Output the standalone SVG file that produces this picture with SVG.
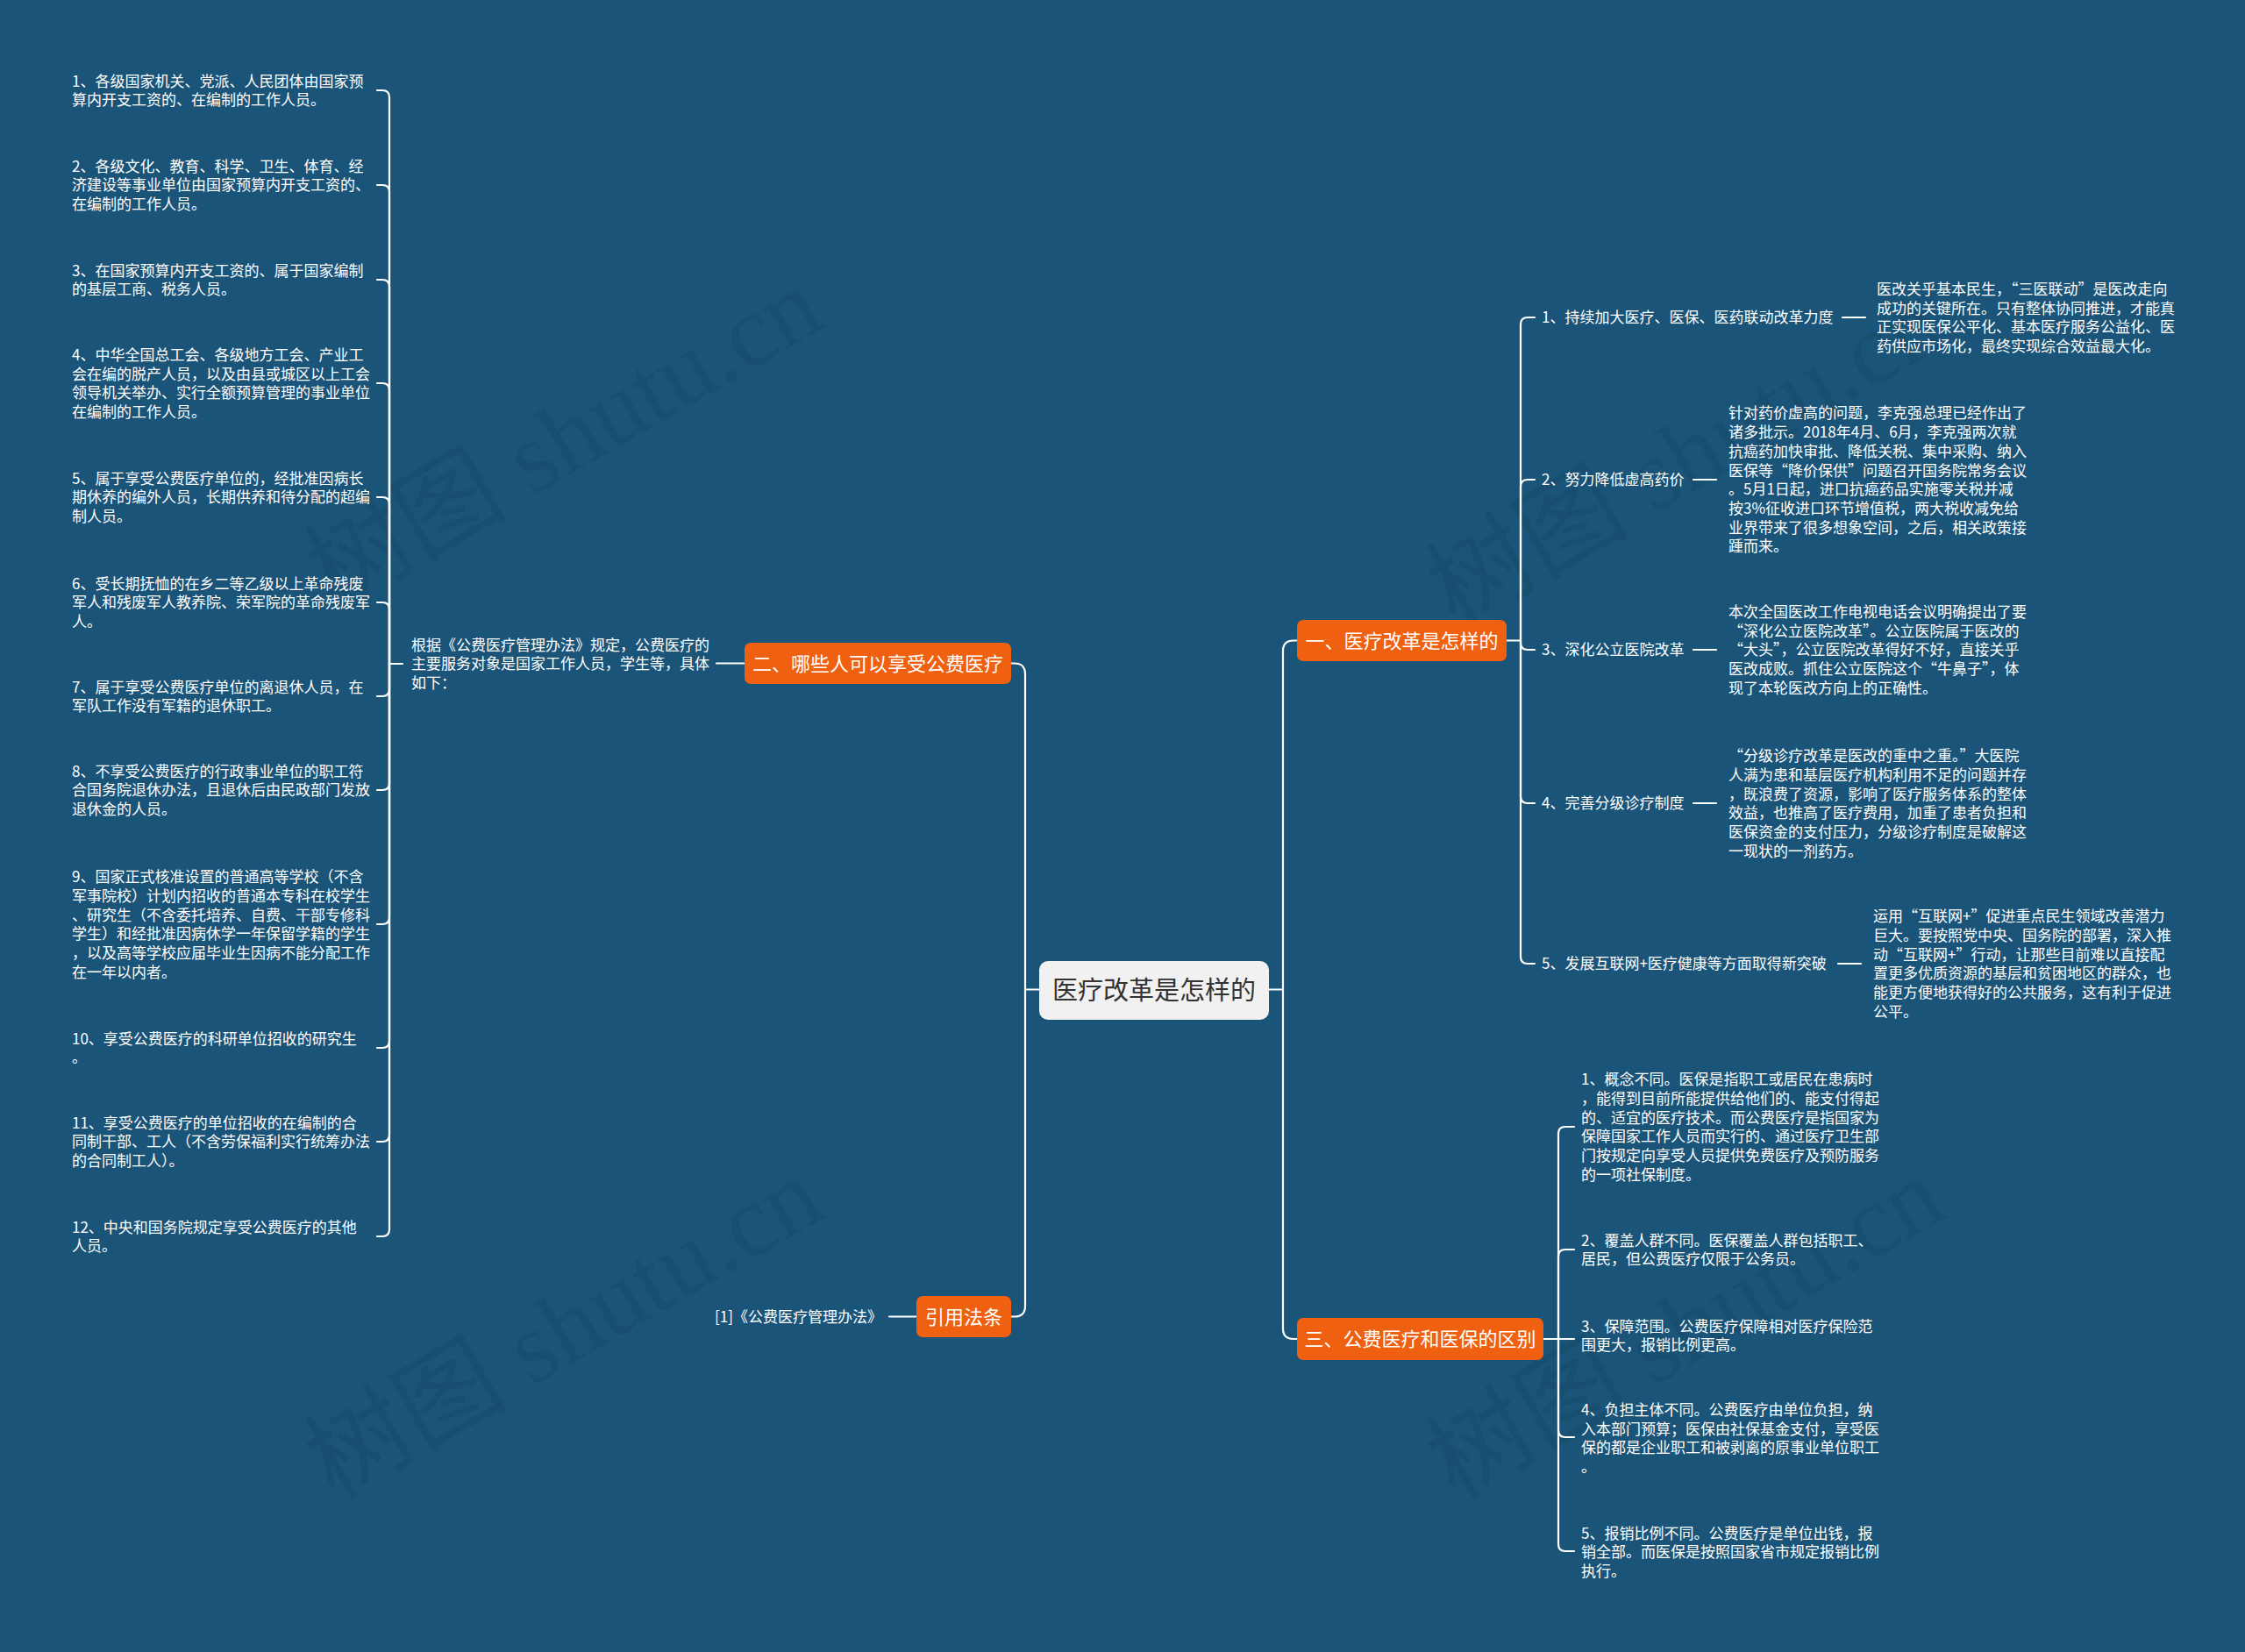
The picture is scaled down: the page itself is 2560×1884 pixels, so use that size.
<svg xmlns="http://www.w3.org/2000/svg" width="2560" height="1884" viewBox="0 0 2560 1884">
<style>
text{font-family:"Noto Sans CJK SC","Liberation Sans",sans-serif;}
.t{fill:#ffffff;font-size:17px;}
.nt{fill:#ffffff;font-size:22px;text-anchor:middle;}
.rt{fill:#333333;font-size:29px;text-anchor:middle;}
.ob{fill:#ef6011;}
.rb{fill:#f1f1f1;}
.conn path{stroke:#ffffff;stroke-width:2.2;fill:none;stroke-linecap:round;stroke-linejoin:round;}
.wm{font-family:"Liberation Serif","Noto Sans CJK SC",serif;font-size:116px;fill:#000000;fill-opacity:0.07;text-anchor:middle;}
</style>
<rect x="0" y="0" width="2560" height="1884" fill="#1a5479"/>

<g id="watermarks">
<text class="wm" transform="translate(662,534) rotate(-30)">树图 shutu.cn</text>
<text class="wm" transform="translate(662,1549) rotate(-30)">树图 shutu.cn</text>
<text class="wm" transform="translate(1941,554) rotate(-30)">树图 shutu.cn</text>
<text class="wm" transform="translate(1941,1549) rotate(-30)">树图 shutu.cn</text>
</g>

<g id="connectors" class="conn">
<path d="M1185 1128.5 H1169"/>
<path d="M1169 1128.5 V768.5 Q1169 756.5 1157 756.5 H1153"/>
<path d="M1169 1128.5 V1489.5 Q1169 1501.5 1157 1501.5 H1153"/>
<path d="M1447 1128.5 H1463"/>
<path d="M1463 1128.5 V742.5 Q1463 730.5 1475 730.5 H1479"/>
<path d="M1463 1128.5 V1515 Q1463 1527 1475 1527 H1479"/>
<path d="M849 756.5 H817"/>
<path d="M459 757 H444"/>
<path d="M444 757 V111 Q444 103 436 103 H430"/>
<path d="M444 757 V219 Q444 211 436 211 H430"/>
<path d="M444 757 V327 Q444 319 436 319 H430"/>
<path d="M444 757 V445 Q444 437 436 437 H430"/>
<path d="M444 757 V575 Q444 567 436 567 H430"/>
<path d="M444 757 V695 Q444 687 436 687 H430"/>
<path d="M444 757 V786 Q444 794 436 794 H430"/>
<path d="M444 757 V893 Q444 901 436 901 H430"/>
<path d="M444 757 V1046 Q444 1054 436 1054 H430"/>
<path d="M444 757 V1187 Q444 1195 436 1195 H430"/>
<path d="M444 757 V1294 Q444 1302 436 1302 H430"/>
<path d="M444 757 V1402 Q444 1410 436 1410 H430"/>
<path d="M1045 1501.5 H1014"/>
<path d="M1718 730.5 H1734"/>
<path d="M1734 730.5 V370 Q1734 362 1742 362 H1750"/>
<path d="M1734 730.5 V555 Q1734 547 1742 547 H1750"/>
<path d="M1734 730.5 V733 Q1734 741 1742 741 H1750"/>
<path d="M1734 730.5 V908 Q1734 916 1742 916 H1750"/>
<path d="M1734 730.5 V1091 Q1734 1099 1742 1099 H1750"/>
<path d="M2101 362 H2127"/>
<path d="M1931 547 H1957"/>
<path d="M1931 741 H1957"/>
<path d="M1931 916 H1957"/>
<path d="M2096 1099 H2122"/>
<path d="M1760 1527 H1777"/>
<path d="M1777 1527 V1293 Q1777 1285 1785 1285 H1795"/>
<path d="M1777 1527 V1433 Q1777 1425 1785 1425 H1795"/>
<path d="M1777 1527 H1795"/>
<path d="M1777 1527 V1631 Q1777 1639 1785 1639 H1795"/>
<path d="M1777 1527 V1761 Q1777 1769 1785 1769 H1795"/>
</g>

<g id="root">
<rect class="rb" x="1185" y="1096" width="262" height="67" rx="10"/>
<text class="rt" x="1316" y="1140">医疗改革是怎样的</text>
</g>

<g id="node-2">
<rect class="ob" x="849" y="733" width="304" height="47" rx="7"/>
<text class="nt" x="1001" y="764.6">二、哪些人可以享受公费医疗</text>
</g>
<g id="node-2-desc">
<text class="t" x="469" y="741.6">根据《公费医疗管理办法》规定，公费医疗的<tspan x="469" dy="21.7">主要服务对象是国家工作人员，学生等，具体</tspan><tspan x="469" dy="21.7">如下：</tspan></text>
</g>

<g id="left-item-1"><text class="t" x="82" y="98.5">1、各级国家机关、党派、人民团体由国家预<tspan x="82" dy="21.7">算内开支工资的、在编制的工作人员。</tspan></text></g>
<g id="left-item-2"><text class="t" x="82" y="195.6">2、各级文化、教育、科学、卫生、体育、经<tspan x="82" dy="21.7">济建设等事业单位由国家预算内开支工资的、</tspan><tspan x="82" dy="21.7">在编制的工作人员。</tspan></text></g>
<g id="left-item-3"><text class="t" x="82" y="314.5">3、在国家预算内开支工资的、属于国家编制<tspan x="82" dy="21.7">的基层工商、税务人员。</tspan></text></g>
<g id="left-item-4"><text class="t" x="82" y="410.8">4、中华全国总工会、各级地方工会、产业工<tspan x="82" dy="21.7">会在编的脱产人员，以及由县或城区以上工会</tspan><tspan x="82" dy="21.7">领导机关举办、实行全额预算管理的事业单位</tspan><tspan x="82" dy="21.7">在编制的工作人员。</tspan></text></g>
<g id="left-item-5"><text class="t" x="82" y="551.6">5、属于享受公费医疗单位的，经批准因病长<tspan x="82" dy="21.7">期休养的编外人员，长期供养和待分配的超编</tspan><tspan x="82" dy="21.7">制人员。</tspan></text></g>
<g id="left-item-6"><text class="t" x="82" y="671.6">6、受长期抚恤的在乡二等乙级以上革命残废<tspan x="82" dy="21.7">军人和残废军人教养院、荣军院的革命残废军</tspan><tspan x="82" dy="21.7">人。</tspan></text></g>
<g id="left-item-7"><text class="t" x="82" y="789.5">7、属于享受公费医疗单位的离退休人员，在<tspan x="82" dy="21.7">军队工作没有军籍的退休职工。</tspan></text></g>
<g id="left-item-8"><text class="t" x="82" y="885.6">8、不享受公费医疗的行政事业单位的职工符<tspan x="82" dy="21.7">合国务院退休办法，且退休后由民政部门发放</tspan><tspan x="82" dy="21.7">退休金的人员。</tspan></text></g>
<g id="left-item-9"><text class="t" x="82" y="1006.1">9、国家正式核准设置的普通高等学校（不含<tspan x="82" dy="21.7">军事院校）计划内招收的普通本专科在校学生</tspan><tspan x="82" dy="21.7">、研究生（不含委托培养、自费、干部专修科</tspan><tspan x="82" dy="21.7">学生）和经批准因病休学一年保留学籍的学生</tspan><tspan x="82" dy="21.7">，以及高等学校应届毕业生因病不能分配工作</tspan><tspan x="82" dy="21.7">在一年以内者。</tspan></text></g>
<g id="left-item-10"><text class="t" x="82" y="1190.5">10、享受公费医疗的科研单位招收的研究生<tspan x="82" dy="21.7">。</tspan></text></g>
<g id="left-item-11"><text class="t" x="82" y="1286.6">11、享受公费医疗的单位招收的在编制的合<tspan x="82" dy="21.7">同制干部、工人（不含劳保福利实行统筹办法</tspan><tspan x="82" dy="21.7">的合同制工人）。</tspan></text></g>
<g id="left-item-12"><text class="t" x="82" y="1405.5">12、中央和国务院规定享受公费医疗的其他<tspan x="82" dy="21.7">人员。</tspan></text></g>

<g id="node-cite">
<rect class="ob" x="1045" y="1478" width="108" height="47" rx="7"/>
<text class="nt" x="1099" y="1509.6">引用法条</text>
</g>
<g id="cite-item"><text class="t" x="815" y="1507.8">[1]《公费医疗管理办法》</text></g>

<g id="node-1">
<rect class="ob" x="1479" y="707" width="239" height="47" rx="7"/>
<text class="nt" x="1598.5" y="738.6">一、医疗改革是怎样的</text>
</g>
<g id="r1-item-1"><text class="t" x="1758" y="368.3">1、持续加大医疗、医保、医药联动改革力度</text></g>
<g id="r1-desc-1"><text class="t" x="2140" y="335.8">医改关乎基本民生，“三医联动”是医改走向<tspan x="2140" dy="21.7">成功的关键所在。只有整体协同推进，才能真</tspan><tspan x="2140" dy="21.7">正实现医保公平化、基本医疗服务公益化、医</tspan><tspan x="2140" dy="21.7">药供应市场化，最终实现综合效益最大化。</tspan></text></g>
<g id="r1-item-2"><text class="t" x="1758" y="553.3">2、努力降低虚高药价</text></g>
<g id="r1-desc-2"><text class="t" x="1971" y="477.4">针对药价虚高的问题，李克强总理已经作出了<tspan x="1971" dy="21.7">诸多批示。2018年4月、6月，李克强两次就</tspan><tspan x="1971" dy="21.7">抗癌药加快审批、降低关税、集中采购、纳入</tspan><tspan x="1971" dy="21.7">医保等“降价保供”问题召开国务院常务会议</tspan><tspan x="1971" dy="21.7">。5月1日起，进口抗癌药品实施零关税并减</tspan><tspan x="1971" dy="21.7">按3%征收进口环节增值税，两大税收减免给</tspan><tspan x="1971" dy="21.7">业界带来了很多想象空间，之后，相关政策接</tspan><tspan x="1971" dy="21.7">踵而来。</tspan></text></g>
<g id="r1-item-3"><text class="t" x="1758" y="747.3">3、深化公立医院改革</text></g>
<g id="r1-desc-3"><text class="t" x="1971" y="703.9">本次全国医改工作电视电话会议明确提出了要<tspan x="1971" dy="21.7">“深化公立医院改革”。公立医院属于医改的</tspan><tspan x="1971" dy="21.7">“大头”，公立医院改革得好不好，直接关乎</tspan><tspan x="1971" dy="21.7">医改成败。抓住公立医院这个“牛鼻子”，体</tspan><tspan x="1971" dy="21.7">现了本轮医改方向上的正确性。</tspan></text></g>
<g id="r1-item-4"><text class="t" x="1758" y="922.3">4、完善分级诊疗制度</text></g>
<g id="r1-desc-4"><text class="t" x="1971" y="868.1">“分级诊疗改革是医改的重中之重。”大医院<tspan x="1971" dy="21.7">人满为患和基层医疗机构利用不足的问题并存</tspan><tspan x="1971" dy="21.7">，既浪费了资源，影响了医疗服务体系的整体</tspan><tspan x="1971" dy="21.7">效益，也推高了医疗费用，加重了患者负担和</tspan><tspan x="1971" dy="21.7">医保资金的支付压力，分级诊疗制度是破解这</tspan><tspan x="1971" dy="21.7">一现状的一剂药方。</tspan></text></g>
<g id="r1-item-5"><text class="t" x="1758" y="1105.3">5、发展互联网+医疗健康等方面取得新突破</text></g>
<g id="r1-desc-5"><text class="t" x="2136" y="1051.1">运用“互联网+”促进重点民生领域改善潜力<tspan x="2136" dy="21.7">巨大。要按照党中央、国务院的部署，深入推</tspan><tspan x="2136" dy="21.7">动“互联网+”行动，让那些目前难以直接配</tspan><tspan x="2136" dy="21.7">置更多优质资源的基层和贫困地区的群众，也</tspan><tspan x="2136" dy="21.7">能更方便地获得好的公共服务，这有利于促进</tspan><tspan x="2136" dy="21.7">公平。</tspan></text></g>

<g id="node-3">
<rect class="ob" x="1479" y="1503" width="281" height="48" rx="7"/>
<text class="nt" x="1619.5" y="1535.1">三、公费医疗和医保的区别</text>
</g>
<g id="r3-item-1"><text class="t" x="1803" y="1237.1">1、概念不同。医保是指职工或居民在患病时<tspan x="1803" dy="21.7">，能得到目前所能提供给他们的、能支付得起</tspan><tspan x="1803" dy="21.7">的、适宜的医疗技术。而公费医疗是指国家为</tspan><tspan x="1803" dy="21.7">保障国家工作人员而实行的、通过医疗卫生部</tspan><tspan x="1803" dy="21.7">门按规定向享受人员提供免费医疗及预防服务</tspan><tspan x="1803" dy="21.7">的一项社保制度。</tspan></text></g>
<g id="r3-item-2"><text class="t" x="1803" y="1420.5">2、覆盖人群不同。医保覆盖人群包括职工、<tspan x="1803" dy="21.7">居民，但公费医疗仅限于公务员。</tspan></text></g>
<g id="r3-item-3"><text class="t" x="1803" y="1518.5">3、保障范围。公费医疗保障相对医疗保险范<tspan x="1803" dy="21.7">围更大，报销比例更高。</tspan></text></g>
<g id="r3-item-4"><text class="t" x="1803" y="1613.8">4、负担主体不同。公费医疗由单位负担，纳<tspan x="1803" dy="21.7">入本部门预算；医保由社保基金支付，享受医</tspan><tspan x="1803" dy="21.7">保的都是企业职工和被剥离的原事业单位职工</tspan><tspan x="1803" dy="21.7">。</tspan></text></g>
<g id="r3-item-5"><text class="t" x="1803" y="1754.6">5、报销比例不同。公费医疗是单位出钱，报<tspan x="1803" dy="21.7">销全部。而医保是按照国家省市规定报销比例</tspan><tspan x="1803" dy="21.7">执行。</tspan></text></g>
</svg>
